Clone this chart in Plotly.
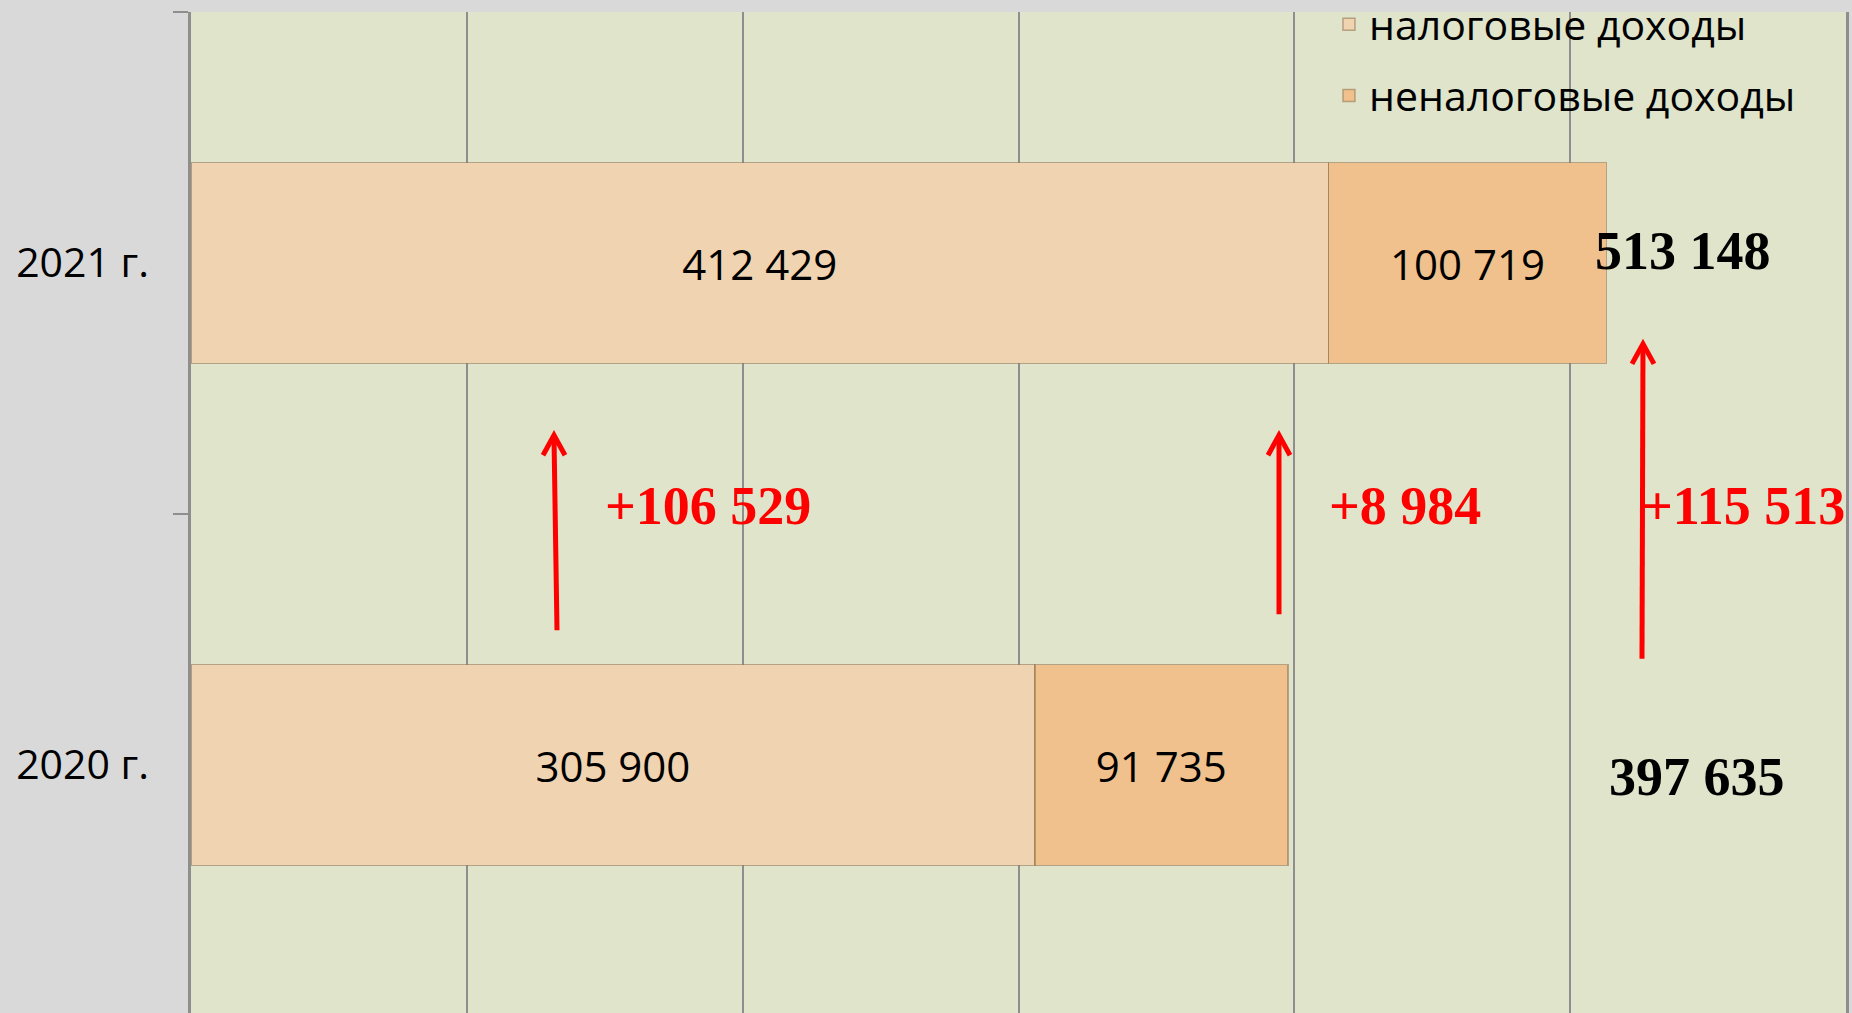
import plotly.graph_objects as go

# ---- data ----
years = ["2020 г.", "2021 г."]
tax_income = [305900, 412429]
nontax_income = [91735, 100719]
series_names = ["налоговые доходы", "неналоговые доходы"]

totals = [a + b for a, b in zip(tax_income, nontax_income)]
delta_tax = tax_income[1] - tax_income[0]
delta_nontax = nontax_income[1] - nontax_income[0]
delta_total = totals[1] - totals[0]


def fmt(v):
    return f"{v:,}".replace(",", " ")


PAPER = "#D9D9D9"
PLOT = "#DFE4CB"
C_TAX = "#F0D3B0"
C_NONTAX = "#F0C18C"
GRID = "#8E8E8E"
RED = "#FF0000"
SANS = "Open Sans"
SERIF = "Liberation Serif"

fig = go.Figure()
fig.add_trace(go.Bar(
    y=years, x=tax_income, orientation="h", name=series_names[0],
    marker=dict(color=C_TAX, line=dict(color="rgba(150,120,85,0.6)", width=1.5)),
    texttemplate="%{x:,}", textposition="inside", insidetextanchor="middle",
    textfont=dict(family=SANS, size=42, color="black"),
    legendgroup="a", width=0.4,
))
fig.add_trace(go.Bar(
    y=years, x=nontax_income, orientation="h", name=series_names[1],
    marker=dict(color=C_NONTAX, line=dict(color="rgba(150,120,85,0.6)", width=1.5)),
    texttemplate="%{x:,}", textposition="inside", insidetextanchor="middle",
    textfont=dict(family=SANS, size=42, color="black"),
    legendgroup="b", width=0.4,
))

annotations = []
# totals
annotations.append(dict(x=540900, y=years[1], xref="x", yref="y", text=f"<b>{fmt(totals[1])}</b>",
                        showarrow=False, yshift=12, font=dict(family=SERIF, size=54, color="black")))
annotations.append(dict(x=546000, y=years[0], xref="x", yref="y", text=f"<b>{fmt(totals[0])}</b>",
                        showarrow=False, yshift=-12, font=dict(family=SERIF, size=54, color="black")))
# deltas
for xpos, val in [(187250, delta_tax), (439940, delta_nontax), (563000, delta_total)]:
    annotations.append(dict(x=xpos, y=0.5, xref="x", yref="y", text=f"<b>+{fmt(val)}</b>",
                            showarrow=False, yshift=8, font=dict(family=SERIF, size=54, color=RED)))

shapes = []
# arrows: tip (x data, y category units), shaft length px, bottom dx px
for tx, ty, length, dx in [(131600, 0.657, 195, 3), (394440, 0.657, 179, 0), (526400, 0.839, 315, -1)]:
    shapes.append(dict(type="line", xref="x", yref="y", xsizemode="pixel", ysizemode="pixel",
                       xanchor=tx, yanchor=ty, x0=dx, y0=-length, x1=0, y1=-2,
                       line=dict(color=RED, width=5)))
    shapes.append(dict(type="path", xref="x", yref="y", xsizemode="pixel", ysizemode="pixel",
                       xanchor=tx, yanchor=ty, path="M-11,-20 L0,0 L11,-20",
                       line=dict(color=RED, width=5)))

fig.update_layout(
    width=1852, height=1013,
    margin=dict(l=191, r=6, t=12, b=0, autoexpand=False),
    paper_bgcolor=PAPER, plot_bgcolor=PLOT,
    barmode="stack",
    separators=", ",
    showlegend=True,
    legend=dict(x=0.6876, y=1.021, xanchor="left", yanchor="top",
                bgcolor="rgba(0,0,0,0)", font=dict(family=SANS, size=41, color="black"),
                traceorder="grouped", tracegroupgap=15),
    xaxis=dict(range=[0, 600000], dtick=100000, showgrid=True, gridcolor=GRID, gridwidth=1.5,
               showticklabels=False, zeroline=False, showline=False, ticks=""),
    yaxis=dict(type="category", categoryorder="array", categoryarray=years,
               range=[-0.494, 1.5], tickson="boundaries", ticks="outside", ticklen=15,
               tickwidth=2, tickcolor=GRID, showline=True, linecolor=GRID, linewidth=2.5,
               mirror=True, showgrid=False, ticklabelstandoff=31,
               tickfont=dict(family=SANS, size=41, color="black")),
    annotations=annotations,
    shapes=shapes,
)

fig.write_html(
    "out.html",
    config={"displayModeBar": False},
    post_script="document.body.style.margin='0';document.body.style.overflow='hidden';",
)
